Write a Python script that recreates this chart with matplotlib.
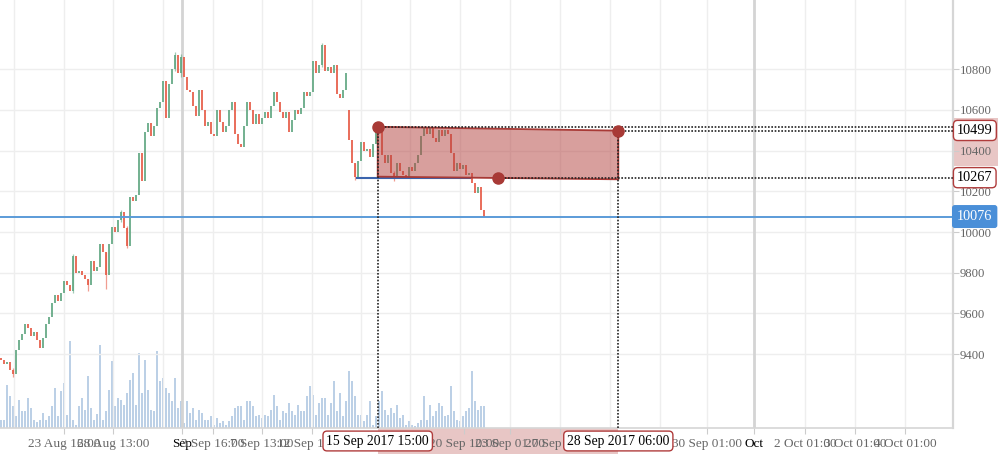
import matplotlib
matplotlib.use('Agg')
import matplotlib.pyplot as plt
import matplotlib.transforms as mtrans
from matplotlib.patches import Rectangle, Polygon

plt.rcParams['font.family'] = ['Liberation Serif', 'DejaVu Serif']

# ---------------- data ----------------
closes = [
    9370, 9350, 9360, 9320, 9300, 9420, 9470, 9500, 9550, 9530,
    9490, 9510, 9470, 9430, 9480, 9550, 9580, 9650, 9690, 9660,
    9700, 9760, 9740, 9710, 9880, 9800, 9810, 9790, 9770, 9740,
    9860, 9810, 9830, 9940, 9900, 9790, 9940, 10025, 10000, 10060,
    10100, 10020, 9930, 10170, 10150, 10180, 10390, 10250, 10490, 10535,
    10470, 10520, 10610, 10640, 10740, 10560, 10725, 10800, 10870, 10780,
    10860, 10760, 10700, 10690, 10620, 10570, 10700, 10600, 10520, 10540,
    10480, 10470, 10600, 10540, 10490, 10520, 10600, 10640, 10480, 10430,
    10420, 10520, 10640, 10600, 10530, 10580, 10530, 10560, 10590, 10560,
    10620, 10690, 10640, 10590, 10560, 10590, 10490, 10550, 10600, 10580,
    10610, 10690, 10670, 10690, 10840, 10780, 10820, 10920, 10790, 10810,
    10780, 10820, 10680, 10660, 10700, 10780, 10450, 10340, 10270, 10350,
    10440, 10400, 10410, 10370, 10430, 10490, 10510, 10380, 10340, 10380,
    10290, 10260, 10340, 10300, 10280, 10270, 10320, 10300, 10340, 10380,
    10470, 10510, 10480, 10510, 10460, 10440, 10500, 10470, 10500, 10480,
    10390, 10300, 10340, 10310, 10330, 10280, 10290, 10240, 10190, 10220,
    10110, 10076,
]
first_open = 9380
open_gaps = {116: 10600}
wicks = {4: (9330, 9290), 24: (9890, 9700), 29: (9770, 9710), 35: (9900, 9720),
         40: (10110, 10050), 42: (10030, 9920), 58: (10885, 10790),
         60: (10875, 10760), 107: (10930, 10810), 118: (10340, 10255),
         131: (10300, 10250)}
volumes = [
    8, 8, 43, 32, 22, 12, 28, 17, 17, 30,
    20, 8, 6, 8, 15, 8, 12, 22, 40, 12,
    37, 45, 13, 87, 8, 3, 22, 30, 18, 52,
    20, 8, 14, 83, 8, 17, 38, 67, 22, 30,
    28, 23, 35, 48, 55, 23, 75, 35, 68, 38,
    18, 17, 77, 47, 50, 40, 35, 27, 50, 20,
    27, 5, 27, 15, 20, 8, 18, 15, 8, 8,
    12, 3, 10, 5, 7, 3, 7, 12, 20, 22,
    22, 8, 27, 27, 22, 12, 13, 10, 13, 12,
    18, 33, 22, 8, 17, 15, 25, 17, 13, 23,
    17, 17, 32, 42, 33, 13, 25, 30, 30, 13,
    25, 47, 17, 35, 12, 27, 57, 47, 32, 13,
    13, 7, 13, 27, 3, 12, 27, 37, 18, 13,
    20, 15, 23, 10, 13, 3, 7, 3, 2, 5,
    8, 32, 8, 23, 12, 17, 25, 22, 12, 13,
    42, 17, 8, 7, 12, 17, 20, 57, 27, 18,
    22, 22,
]

grid_x = [4.33, 21.0, 37.33, 54.0, 70.67, 87.0, 103.67, 120.0, 136.33, 153.0,
          169.67, 186.33, 203.0, 219.67, 235.33, 268.0, 284.67, 301.33]
tick_pos = [21.0, 37.33, 60.33, 70.67, 87.0, 103.67, 154.5, 169.67,
            186.33, 235.33, 251.0, 268.0, 284.67, 301.33]
tick_labels = ['23 Aug 16:00', '28 Aug 13:00', 'Sep', '3 Sep 16:00', '7 Sep 13:00',
               '12 Sep 10:00', '20 Sep 10:00', '23 Sep 01:00',
               '27 Sep 01:00', '30 Sep 01:00', 'Oct', '2 Oct 01:00', '3 Oct 01:00',
               '4 Oct 01:00']
month_lines = [60.33, 251.0]
price_ticks = [9400, 9600, 9800, 10000, 10200, 10400, 10600, 10800]

last_price = 10076
rect_x = [125.57, 205.77]
rect_top = [10517, 10498]
rect_bottom = [10272, 10259]
mid_point = (165.57, 10267)
right_label_values = [10499, 10267]
date_labels = ['15 Sep 2017 15:00', '28 Sep 2017 06:00']
support_seg = ([118.67, 156.33], 10265)

# ---------------- figure ----------------
W, H = 998, 454
fig = plt.figure(figsize=(W / 100, H / 100), dpi=100)
pos = [0, 26 / H, 953 / W, 428 / H]
axv = fig.add_axes(pos, zorder=0)
ax = fig.add_axes(pos, zorder=1)
ax.patch.set_visible(False)

xlim = (-0.33, 317.33)
ylim = (9037, 11140)

# volume
n = len(closes)
xs = list(range(n))
axv.bar(xs, volumes, width=0.45, color='#bcd0e6', linewidth=0)
axv.set_xlim(*xlim)
axv.set_ylim(0, 428)
axv.axis('off')

# candles
opens = [first_open] + closes[:-1]
for k, v in open_gaps.items():
    opens[k] = v
green, red = '#62a883', '#e65c48'
bottoms, heights, cols = [], [], []
for o, c in zip(opens, closes):
    lo, hi = min(o, c), max(o, c)
    if hi - lo < 8:
        hi = lo + 8
    bottoms.append(lo)
    heights.append(hi - lo)
    cols.append(green if c >= o else red)
ax.bar(xs, heights, bottom=bottoms, width=0.7, color=cols, linewidth=0,
       alpha=0.88, zorder=3)
for i, (h, l) in wicks.items():
    ax.vlines(i, l, h, color=cols[i], lw=0.9, alpha=0.6, zorder=2.9)

ax.set_xlim(*xlim)
ax.set_ylim(*ylim)

# grid
for gx in grid_x:
    ax.axvline(gx, color='#eeeeee', lw=1, zorder=0.5)
for py in price_ticks:
    ax.axhline(py, color='#eeeeee', lw=1, zorder=0.5)
for mx in month_lines:
    ax.axvline(mx, color='#d4d4d4', lw=2, zorder=0.6)

# last price line
ax.axhline(last_price, color='#5b9bd8', lw=1.4, zorder=4)

# support segment
ax.plot(support_seg[0], [support_seg[1]] * 2, color='#3b64ad', lw=1.5, zorder=4)

# rectangle annotation
poly = Polygon([(rect_x[0], rect_top[0]), (rect_x[1], rect_top[1]),
                (rect_x[1], rect_bottom[1]), (rect_x[0], rect_bottom[0])],
               closed=True, facecolor=(0.70, 0.25, 0.24, 0.5),
               edgecolor='#a83a36', lw=1.3, zorder=5)
ax.add_patch(poly)
dot = dict(color='#222222', lw=1.2, ls=(0, (1, 1)), zorder=6, clip_on=False)
ax.plot([rect_x[0], xlim[1]], [rect_top[0]] * 2, **dot)
ax.plot([rect_x[1], xlim[1]], [rect_top[1]] * 2, **dot)
ax.plot([mid_point[0], xlim[1]], [mid_point[1]] * 2, **dot)
ax.plot([rect_x[0]] * 2, [ylim[0], rect_top[0]], **dot)
ax.plot([rect_x[1]] * 2, [ylim[0], rect_top[1]], **dot)
ax.plot([rect_x[0], rect_x[1], mid_point[0]], [rect_top[0], rect_top[1], mid_point[1]],
        'o', ms=8, color='#a83a36', zorder=7)

# axes styling
for s in ['left', 'top']:
    ax.spines[s].set_visible(False)
ax.spines['right'].set_color('#d6d6d6')
ax.spines['right'].set_linewidth(1.6)
ax.spines['bottom'].set_color('#d6d6d6')
ax.spines['bottom'].set_linewidth(1.2)
ax.yaxis.tick_right()
ax.set_yticks(price_ticks)
ax.set_yticklabels([str(p) for p in price_ticks])
ax.tick_params(axis='y', length=4, color='#cccccc', labelsize=9.2,
               labelcolor='#666666', pad=1)
ax.set_xticks(tick_pos)
ax.set_xticklabels(tick_labels)
ax.tick_params(axis='x', length=4, color='#cccccc', labelsize=9.5,
               labelcolor='#666666', pad=3)
for lab in ax.get_xticklabels():
    if lab.get_text() in ('Sep', 'Oct'):
        lab.set_color('black')

pink = '#e8c6c5'
# x-range band under axis
xb = mtrans.blended_transform_factory(ax.transData, ax.transAxes)
ax.add_patch(Rectangle((rect_x[0], -26 / 428), rect_x[1] - rect_x[0], 26 / 428,
                       transform=xb, facecolor=pink, edgecolor='none',
                       clip_on=False, zorder=0.2))
# y-range band on right axis
yb = mtrans.offset_copy(mtrans.blended_transform_factory(ax.transAxes, ax.transData),
                        fig=fig, x=0, y=12, units='dots')
ax.add_patch(Rectangle((1.0, right_label_values[1]), 45 / 953,
                       right_label_values[0] - right_label_values[1],
                       transform=yb, facecolor=pink, edgecolor='none',
                       clip_on=False, zorder=0.2))

# right labels
box = dict(boxstyle='round,pad=0.25,rounding_size=0.3', fc='white', ec='#b03c3c', lw=1)
for v in right_label_values:
    ax.annotate(str(v), xy=(1, v), xycoords=('axes fraction', 'data'),
                xytext=(4, 0), textcoords='offset pixels', ha='left', va='center',
                fontsize=10.3, color='black', bbox=box, zorder=10, annotation_clip=False)
ax.annotate(str(last_price), xy=(1, last_price), xycoords=('axes fraction', 'data'),
            xytext=(4, 0), textcoords='offset pixels', ha='left', va='center',
            fontsize=10.3, color='white', zorder=10, annotation_clip=False,
            bbox=dict(boxstyle='round,pad=0.3,rounding_size=0.15', fc='#4a8fd8',
                      ec='#4a8fd8', lw=1))

# date labels
for xv, t in zip(rect_x, date_labels):
    ax.annotate(t, xy=(xv, 0), xycoords=('data', 'axes fraction'),
                xytext=(0, -13), textcoords='offset pixels', ha='center', va='center',
                fontsize=9.8, color='black', bbox=box, zorder=10, annotation_clip=False)

fig.savefig('out.png', dpi=100)
